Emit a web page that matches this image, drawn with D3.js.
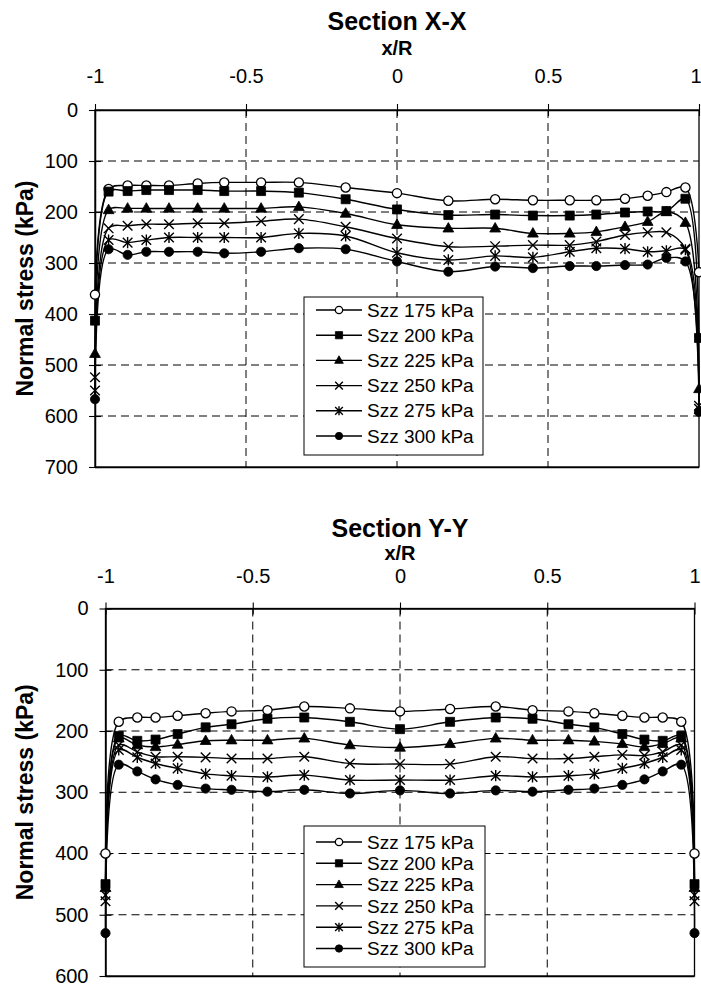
<!DOCTYPE html>
<html>
<head>
<meta charset="utf-8">
<script src="https://cdn.jsdelivr.net/npm/d3@7"></script>
<style>
  body { margin: 0; background: #fff; }
  svg text { font-family: "Liberation Sans", Arial, sans-serif; fill: #000; }
</style>
</head>
<body>
<svg id="chart" width="701" height="986"></svg>
<script>
// Positions along the section, normalised by the radius
const xOverR = [-1, -0.955, -0.892, -0.83, -0.755, -0.66, -0.572, -0.45, -0.325, -0.17, 0,
                0.17, 0.325, 0.45, 0.572, 0.66, 0.755, 0.83, 0.892, 0.955, 1];
const xTickValues = [-1, -0.5, 0, 0.5, 1];
const xTickLabels = ["-1", "-0.5", "0", "0.5", "1"];
const seriesNames = ["Szz 175 kPa", "Szz 200 kPa", "Szz 225 kPa", "Szz 250 kPa", "Szz 275 kPa", "Szz 300 kPa"];
const markerKinds = ["circleOpen", "square", "triangle", "times", "asterisk", "circleFilled"];

// Section X-X : normal stress (kPa)
const xx175 = [362, 155, 148, 148, 148, 144, 142, 142, 142, 152, 163, 178, 175, 177, 177, 177, 174, 168, 161, 152, 318];
const xx200 = [413, 160, 159, 157, 157, 157, 159, 159, 162, 175, 195, 206, 205, 207, 207, 205, 201, 199, 198, 174, 447];
const xx225 = [478, 196, 193, 193, 193, 193, 193, 193, 190, 203, 225, 232, 232, 242, 242, 239, 229, 219, 200, 221, 547];
const xx250 = [524, 232, 227, 224, 224, 222, 222, 218, 214, 229, 252, 268, 267, 265, 265, 258, 245, 240, 240, 272, 580];
const xx275 = [550, 255, 260, 255, 250, 250, 250, 250, 242, 247, 280, 294, 286, 289, 278, 271, 272, 278, 276, 274, 586];
const xx300 = [567, 273, 284, 278, 278, 278, 281, 278, 271, 273, 297, 317, 307, 310, 306, 306, 304, 303, 290, 297, 592];

// Section Y-Y : normal stress (kPa)
const yy175 = [400, 185, 178, 178, 175, 171, 168, 166, 160, 163, 168, 164, 160, 166, 168, 171, 175, 178, 178, 185, 400];
const yy200 = [450, 208, 216, 214, 205, 194, 189, 180, 178, 185, 197, 185, 178, 180, 189, 194, 205, 214, 216, 208, 450];
const yy225 = [456, 212, 223, 226, 222, 216, 215, 215, 212, 223, 227, 221, 212, 215, 215, 217, 221, 226, 221, 212, 456];
const yy250 = [478, 223, 234, 242, 242, 243, 245, 245, 242, 253, 254, 254, 242, 245, 245, 242, 239, 240, 234, 223, 478];
const yy275 = [468, 231, 243, 253, 261, 270, 273, 275, 272, 280, 280, 280, 273, 275, 273, 270, 261, 253, 243, 231, 468];
const yy300 = [530, 255, 266, 279, 288, 294, 296, 299, 296, 302, 297, 302, 297, 299, 296, 294, 288, 279, 266, 255, 530];

const yTicksXX = [0, 100, 200, 300, 400, 500, 600, 700];
const yTicksYY = [0, 100, 200, 300, 400, 500, 600];

const svg = d3.select("#chart");

function markerPath(kind, k) {
  switch (kind) {
    case "triangle": return `M0,${-5.8*k}L${5.4*k},${3.7*k}L${-5.4*k},${3.7*k}Z`;
    case "times": return `M${-4.8*k},${-4.8*k}L${4.8*k},${4.8*k}M${-4.8*k},${4.8*k}L${4.8*k},${-4.8*k}`;
    case "asterisk": return `M${-4.8*k},${-4.8*k}L${4.8*k},${4.8*k}M${-4.8*k},${4.8*k}L${4.8*k},${-4.8*k}M0,${-5.6*k}L0,${5.6*k}`;
    case "square": return `M${-4.5*k},${-4.5*k}h${9*k}v${9*k}h${-9*k}Z`;
    default: return d3.symbol(d3.symbolCircle, Math.PI * (4.6*k) * (4.6*k))();
  }
}

function drawMarker(g, kind, cx, cy, s) {
  const p = g.append("path")
    .attr("transform", `translate(${cx},${cy})`)
    .attr("d", markerPath(kind, s));
  if (kind === "circleOpen") p.attr("fill", "#fff").attr("stroke", "#000").attr("stroke-width", 1.3);
  else if (kind === "times" || kind === "asterisk") p.attr("fill", "none").attr("stroke", "#000").attr("stroke-width", 1.4);
  else p.attr("fill", "#000").attr("stroke", "#000").attr("stroke-width", 0.8);
}

function drawPanel(cfg) {
  const x = d3.scaleLinear().domain([-1, 1]).range([cfg.left, cfg.right]);
  const y = d3.scaleLinear().domain([0, cfg.yMax]).range([cfg.top, cfg.bottom]);
  const g = svg.append("g");

  // dashed grid
  g.append("g").selectAll("line").data(cfg.yTicks.filter(v => v > 0 && v < cfg.yMax)).join("line")
    .attr("x1", cfg.left).attr("x2", cfg.right)
    .attr("y1", d => y(d)).attr("y2", d => y(d))
    .attr("stroke", "#000").attr("stroke-width", 1).attr("stroke-dasharray", "8,5");
  g.append("g").selectAll("line").data(xTickValues.filter(v => v > -1 && v < 1)).join("line")
    .attr("x1", d => x(d)).attr("x2", d => x(d))
    .attr("y1", cfg.top).attr("y2", cfg.bottom)
    .attr("stroke", "#000").attr("stroke-width", 1).attr("stroke-dasharray", "8,5");

  // plot frame
  g.append("rect").attr("x", cfg.left).attr("y", cfg.top)
    .attr("width", cfg.right - cfg.left).attr("height", cfg.bottom - cfg.top)
    .attr("fill", "none").attr("stroke", "#000").attr("stroke-width", 1.3);
  g.append("line").attr("x1", cfg.left).attr("x2", cfg.right)
    .attr("y1", cfg.bottom + 0.5).attr("y2", cfg.bottom + 0.5)
    .attr("stroke", "#000").attr("stroke-width", 1.6);

  // x axis along the top
  const xa = g.append("g").attr("transform", `translate(0,${cfg.top})`)
    .call(d3.axisTop(x).tickValues(xTickValues).tickFormat((d, i) => xTickLabels[i]).tickSize(6).tickSizeOuter(0));
  xa.select(".domain").attr("stroke-width", 1.5);
  xa.selectAll(".tick line").attr("y1", 6).attr("y2", -6).attr("stroke-width", 1.1);
  xa.selectAll(".tick text").attr("y", cfg.xLabelY - cfg.top).attr("dy", "0.35em")
    .attr("font-size", 20).attr("font-family", "Liberation Sans, Arial, sans-serif");
  // keep the last label inside the page edge
  xa.selectAll(".tick text").filter(d => d === 1)
    .attr("text-anchor", d => (x(1) + 6 > 701 ? "end" : "middle"))
    .attr("x", d => (x(1) + 6 > 701 ? 701 - x(1) : 0));

  // y axis
  const ya = g.append("g").attr("transform", `translate(${cfg.left},0)`)
    .call(d3.axisLeft(y).tickValues(cfg.yTicks).tickFormat(d3.format("d")).tickSize(6).tickSizeOuter(0));
  ya.select(".domain").attr("stroke-width", 1.5);
  ya.selectAll(".tick line").attr("x1", 6).attr("x2", -6).attr("stroke-width", 1.1);
  ya.selectAll(".tick text").attr("x", -17).attr("font-size", 20)
    .attr("font-family", "Liberation Sans, Arial, sans-serif");

  // titles
  g.append("text").attr("x", (cfg.left + cfg.right) / 2).attr("y", cfg.titleY).attr("dy", "0.35em")
    .attr("text-anchor", "middle").attr("font-weight", "bold").attr("font-size", 25).text(cfg.title);
  g.append("text").attr("x", (cfg.left + cfg.right) / 2).attr("y", cfg.xTitleY).attr("dy", "0.35em")
    .attr("text-anchor", "middle").attr("font-weight", "bold").attr("font-size", 20).text("x/R");
  g.append("text").attr("transform", `translate(${cfg.yTitleX},${(cfg.top + cfg.bottom) / 2}) rotate(-90)`)
    .attr("dy", "0.35em").attr("text-anchor", "middle").attr("font-weight", "bold").attr("font-size", 23)
    .text("Normal stress (kPa)");

  // series
  const line = d3.line().x((d, i) => x(xOverR[i])).y(d => y(d)).curve(d3.curveCatmullRom.alpha(0.5));
  cfg.series.forEach(vals => {
    g.append("path").attr("d", line(vals)).attr("fill", "none").attr("stroke", "#000").attr("stroke-width", 1.4);
  });
  cfg.series.forEach((vals, si) => {
    const mg = g.append("g");
    vals.forEach((v, i) => drawMarker(mg, markerKinds[si], x(xOverR[i]), y(v), 1));
  });

  // legend
  const lg = g.append("g");
  lg.append("rect").attr("x", cfg.legend.x).attr("y", cfg.legend.y)
    .attr("width", cfg.legend.w).attr("height", cfg.legend.h)
    .attr("fill", "#fff").attr("stroke", "#000").attr("stroke-width", 1);
  seriesNames.forEach((name, i) => {
    const ry = cfg.legend.row0 + i * cfg.legend.step;
    lg.append("line").attr("x1", cfg.legend.x + 12).attr("x2", cfg.legend.x + 58)
      .attr("y1", ry).attr("y2", ry).attr("stroke", "#000").attr("stroke-width", 1.4);
    drawMarker(lg, markerKinds[i], cfg.legend.x + 35, ry, 0.8);
    lg.append("text").attr("x", cfg.legend.x + 63).attr("y", ry).attr("dy", "0.35em")
      .attr("font-size", 19).text(name);
  });
}

drawPanel({
  title: "Section X-X", left: 95, right: 699, top: 110, bottom: 467, yMax: 700, yTicks: yTicksXX,
  titleY: 21, xTitleY: 48, xLabelY: 76, yTitleX: 25,
  series: [xx175, xx200, xx225, xx250, xx275, xx300],
  legend: { x: 304, y: 297, w: 179, h: 158, row0: 310, step: 25.2 }
});

drawPanel({
  title: "Section Y-Y", left: 105.5, right: 694.5, top: 608.5, bottom: 976, yMax: 600, yTicks: yTicksYY,
  titleY: 528, xTitleY: 553, xLabelY: 576, yTitleX: 25,
  series: [yy175, yy200, yy225, yy250, yy275, yy300],
  legend: { x: 304, y: 826, w: 181, h: 141, row0: 842, step: 21.3 }
});
</script>
</body>
</html>
